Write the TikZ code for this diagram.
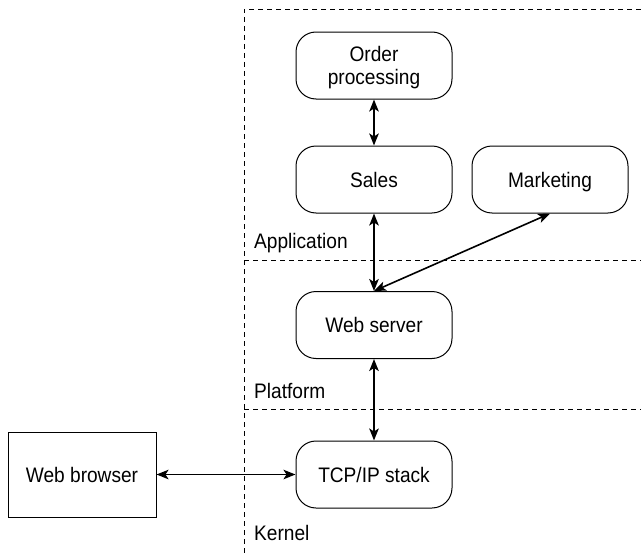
\documentclass[tikz,border=0pt]{standalone}
\usepackage{fontspec}
\setmainfont{Liberation Sans}[FakeStretch=0.91]
\usetikzlibrary{arrows.meta}
\begin{document}
\begin{tikzpicture}[x=1pt,y=-1pt,
  font=\fontsize{21}{23}\selectfont,
  rbox/.style={draw, line width=1pt, rounded corners=20pt, minimum width=156pt, minimum height=67pt, align=center, inner sep=0pt, text height=15pt, text depth=0pt},
  sbox/.style={draw, line width=1pt, minimum width=148pt, minimum height=85pt, inner sep=0pt, text height=15pt, text depth=0pt},
  layer/.style={dash pattern=on 5pt off 4pt, line width=0.9pt},
  conn/.style={line width=1.6pt, {Stealth[length=12pt,width=9.5pt,inset=3pt]}-{Stealth[length=12pt,width=9.5pt,inset=3pt]}},
  lbl/.style={anchor=base west, inner sep=0pt}]
\useasboundingbox (0,0) rectangle (641,554);
% layer boundaries
\coordinate (tl) at (244,9);
\coordinate (tr) at (641,9);
\coordinate (ml) at (244,260);
\coordinate (mr) at (641,260);
\coordinate (ll) at (244,409);
\coordinate (lr) at (641,409);
\coordinate (bl) at (244,554);
\draw[layer] (tr) -- (tl) -- (bl);
\draw[layer] (ml) -- (mr);
\draw[layer] (ll) -- (lr);
% nodes
\node[rbox, text height=, text depth=0pt] (order) at (374,65.5) {Order\\processing};
\node[rbox] (sales) at (374,179.5) {Sales};
\node[rbox] (mkt) at (550,179.5) {Marketing};
\node[rbox] (web) at (374,325) {Web server};
\node[rbox] (tcp) at (374,474.5) {TCP/IP stack};
\node[sbox] (browser) at (82,474.5) {Web browser};
% labels
\node[lbl] (app) at (254,248) {Application};
\node[lbl] (plat) at (254,398) {Platform};
\node[lbl] (kern) at (254,540) {Kernel};
% connectors
\draw[conn] (order) -- (sales);
\draw[conn] (sales) -- (web);
\draw[conn] (mkt.south) -- (web.north);
\draw[conn] (web) -- (tcp);
\draw[conn] (browser) -- (tcp);
\end{tikzpicture}
\end{document}
